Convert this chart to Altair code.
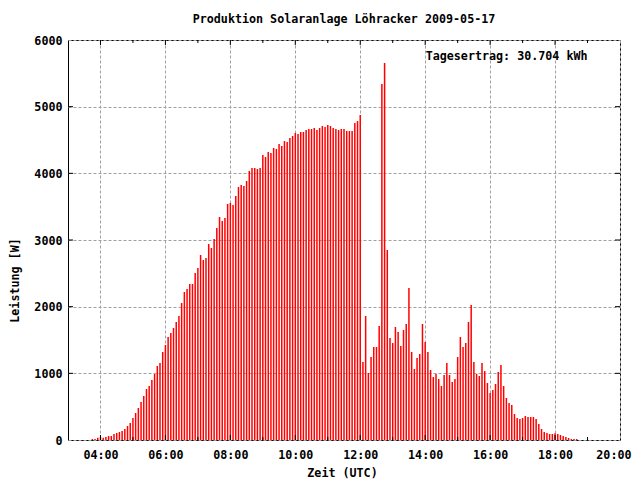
import altair as alt
import pandas as pd

# ---- data (5-minute readings, Watt) ----
first_time = "2009-05-17 03:45"
step = "5min"
power_w = [
    # 03:45 - 06:30
    15, 15, 35, 45, 35, 45, 60, 60, 90, 105, 120, 135,
    165, 210, 255, 330, 405, 480, 570, 660, 765, 810, 900, 990,
    1110, 1155, 1320, 1425, 1545, 1605, 1680, 1770, 1860, 2055,
    # 06:35 - 09:05
    2220, 2265, 2340, 2340, 2505, 2580, 2775, 2700, 2730, 2940, 2880, 3015,
    3180, 3345, 3285, 3330, 3540, 3555, 3525, 3660, 3795, 3825, 3810, 3885,
    4035, 4080, 4080, 4065, 4080, 4275, 4245,
    # 09:10 - 11:55
    4320, 4305, 4380, 4365, 4440, 4410, 4485, 4470, 4530, 4560,
    4605, 4590, 4620, 4620, 4650, 4665, 4665, 4680, 4650, 4680, 4710, 4695,
    4725, 4710, 4680, 4665, 4650, 4665, 4665, 4635, 4635, 4635, 4755, 4785,
    # 12:00 - 12:55
    4875, 1170, 1860, 1005, 1245, 1395, 1395, 1710, 5340, 5655, 2850, 1530,
    # 13:00 - 13:55
    1455, 1695, 1620, 1410, 1650, 1740, 2280, 1320, 1065, 1230, 1290, 1740,
    # 14:00 - 14:55
    1470, 1320, 1050, 945, 990, 915, 810, 975, 1155, 975, 870, 915,
    # 15:00 - 15:55
    1245, 1545, 1395, 1455, 1770, 2025, 1170, 990, 960, 1155, 1035, 855,
    # 16:00 - 16:55
    705, 750, 840, 1020, 1125, 810, 630, 555, 525, 390, 330, 315,
    # 17:00 - 17:55
    330, 360, 345, 345, 345, 315, 240, 165, 120, 105, 90, 90,
    # 18:00 - 18:40
    100, 90, 75, 60, 45, 30, 15, 15, 15,
]

x_tick_hours = [4, 6, 8, 10, 12, 14, 16, 18, 20]
x_minor_hours = [5, 7, 9, 11, 13, 15, 17, 19]
y_tick_values = [0, 1000, 2000, 3000, 4000, 5000, 6000]
title_text = "Produktion Solaranlage Löhracker 2009-05-17"
note_text = "Tagesertrag: 30.704 kWh"
note_pos = {"t": 19.0, "p": 5760}

times = pd.date_range(first_time, periods=len(power_w), freq=step)
df = pd.DataFrame({"t": times.hour + times.minute / 60.0, "p": power_w})

W, H = 552, 400
FONT = "DejaVu Sans Mono"
FS = 11.7

xscale = alt.Scale(domain=[3, 20], nice=False, zero=False)
yscale = alt.Scale(domain=[0, 6000], nice=False)

bars = alt.Chart(df).mark_rule(color="#ff0000", strokeWidth=1.5).encode(
    x=alt.X("t:Q", scale=xscale, axis=alt.Axis(
        values=x_tick_hours,
        labelExpr="(datum.value < 10 ? '0' : '') + datum.value + ':00'",
        grid=True, gridDash=[3, 2], gridColor="#a0a0a0", gridWidth=1,
        ticks=False, domain=False,
        labelFont=FONT, labelFontSize=FS, labelFontWeight="bold", labelColor="black",
        labelPadding=9, labelFlush=True, labelFlushOffset=11,
        title="Zeit (UTC)", titleFont=FONT, titleFontSize=FS, titleFontWeight="bold",
        titleColor="black", titleX=W / 2 - 2, titleY=36, titleBaseline="alphabetic",
        titleAlign="center",
    )),
    y=alt.Y("p:Q", scale=yscale, axis=alt.Axis(
        values=y_tick_values, format="d",
        grid=True, gridDash=[3, 2], gridColor="#a0a0a0", gridWidth=1,
        ticks=False, domain=False,
        labelFont=FONT, labelFontSize=FS, labelFontWeight="bold", labelColor="black",
        labelPadding=6, labelFlush=False,
        title="Leistung [W]", titleFont=FONT, titleFontSize=FS, titleFontWeight="bold",
        titleColor="black", titleX=-54, titleY=H / 2 + 40, titleAngle=270,
        titleBaseline="middle", titleAlign="center",
    )),
    y2=alt.datum(0),
)

xmaj = pd.DataFrame({"t": x_tick_hours[:-1]})
xmin = pd.DataFrame({"t": x_minor_hours})
yt = pd.DataFrame({"p": y_tick_values[1:-1]})

def xticks(d, length):
    b = alt.Chart(d).mark_rule(color="black", strokeWidth=1)
    bottom = b.encode(x=alt.X("t:Q", scale=xscale),
                      y=alt.value(H), y2=alt.value(H - length))
    top = b.encode(x=alt.X("t:Q", scale=xscale),
                   y=alt.value(0), y2=alt.value(length))
    return [bottom, top]

yb = alt.Chart(yt).mark_rule(color="black", strokeWidth=1)
yleft = yb.encode(y=alt.Y("p:Q", scale=yscale),
                  x=alt.value(0), x2=alt.value(5))
yright = yb.encode(y=alt.Y("p:Q", scale=yscale),
                   x=alt.value(W), x2=alt.value(W - 5))

note = alt.Chart(pd.DataFrame([{**note_pos, "label": note_text}])).mark_text(
    align="right", baseline="middle", font=FONT, fontSize=FS, fontWeight="bold",
    color="black",
).encode(
    x=alt.X("t:Q", scale=xscale),
    y=alt.Y("p:Q", scale=yscale),
    text="label:N",
)

chart = alt.layer(
    bars, *xticks(xmaj, 5), *xticks(xmin, 3), yleft, yright, note
).properties(
    width=W, height=H,
    title=alt.TitleParams(title_text, font=FONT, fontSize=FS, fontWeight="bold",
                          color="black", anchor="middle", offset=9),
    autosize=alt.AutoSizeParams(type="none"),
    padding={"left": 60, "top": 32, "right": 12, "bottom": 40},
).configure(
    background="white",
    view=alt.ViewConfig(stroke="black", strokeWidth=1),
)

chart.save("out.html", embed_options={"renderer": "svg", "actions": False})
